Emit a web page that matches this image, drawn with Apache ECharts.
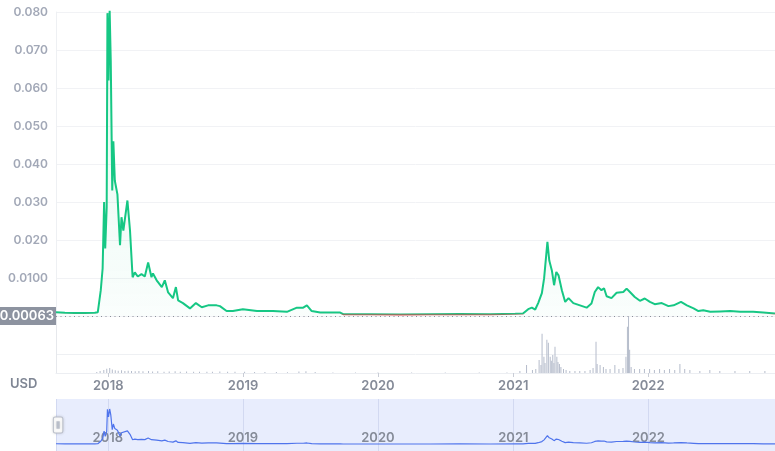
<!doctype html>
<html>
<head>
    <meta charset="utf-8">
    <title>Price chart</title>
    <style>
        html, body { margin: 0; padding: 0; background: #fff; }
        #chartEle { width: 775px; height: 451px; }
    </style>
</head>
<body>
<div id="chartEle"></div>
<script src="https://cdn.jsdelivr.net/npm/echarts@6.0.0/dist/echarts.min.js"></script>
<script>
    // price points
    var priceDates = [
        '2017-08-14', '2017-09-07', '2017-10-04', '2017-10-31', '2017-11-27', '2017-12-05', '2017-12-13', '2017-12-18',
        '2017-12-22', '2017-12-25', '2017-12-29', '2017-12-31', '2018-01-03', '2018-01-06', '2018-01-09', '2018-01-13',
        '2018-01-16', '2018-01-20', '2018-01-27', '2018-02-03', '2018-02-07', '2018-02-12', '2018-02-23', '2018-03-02',
        '2018-03-09', '2018-03-15', '2018-03-23', '2018-04-02', '2018-04-11', '2018-04-20', '2018-04-29', '2018-05-03',
        '2018-05-13', '2018-05-27', '2018-06-04', '2018-06-13', '2018-06-26', '2018-07-04', '2018-07-10', '2018-07-23',
        '2018-08-11', '2018-08-27', '2018-09-12', '2018-09-29', '2018-10-22', '2018-10-31', '2018-11-18', '2018-12-05',
        '2019-01-01', '2019-02-08', '2019-03-23', '2019-04-30', '2019-05-27', '2019-06-13', '2019-06-23', '2019-07-06',
        '2019-07-29', '2019-09-21', '2019-09-29', '2019-12-11', '2020-03-01', '2020-05-21', '2020-08-10', '2020-10-30',
        '2021-01-06', '2021-01-27', '2021-02-10', '2021-02-20', '2021-03-01', '2021-03-09', '2021-03-19', '2021-03-25',
        '2021-04-03', '2021-04-08', '2021-04-15', '2021-04-21', '2021-04-27', '2021-05-03', '2021-05-12', '2021-05-21',
        '2021-05-30', '2021-06-12', '2021-06-30', '2021-07-18', '2021-07-31', '2021-08-09', '2021-08-18', '2021-08-27',
        '2021-09-03', '2021-09-10', '2021-09-23', '2021-10-07', '2021-10-25', '2021-11-03', '2021-11-12', '2021-11-25',
        '2021-12-09', '2021-12-22', '2022-01-05', '2022-01-18', '2022-02-06', '2022-02-24', '2022-03-10', '2022-03-30',
        '2022-04-15', '2022-05-03', '2022-05-16', '2022-05-29', '2022-06-17', '2022-07-14', '2022-08-10', '2022-09-06',
        '2022-10-11', '2022-11-07', '2022-12-09'
    ];
    var prices = [
        0.0010, 0.00087, 0.0008, 0.0008, 0.00085, 0.0010, 0.0068, 0.0125,
        0.0300, 0.0178, 0.0286, 0.0797, 0.0620, 0.0803, 0.0670, 0.0330,
        0.0460, 0.0356, 0.0320, 0.0186, 0.0260, 0.0225, 0.0304, 0.0225,
        0.0102, 0.0115, 0.0104, 0.0110, 0.0104, 0.0141, 0.0102, 0.0112,
        0.0094, 0.0076, 0.0094, 0.0062, 0.0047, 0.0076, 0.0041, 0.0034,
        0.0020, 0.0034, 0.0023, 0.0028, 0.0028, 0.0026, 0.0013, 0.0013,
        0.0018, 0.0013, 0.0013, 0.0011, 0.0022, 0.0022, 0.0028, 0.0013,
        0.0009, 0.0009, 0.00047, 0.00047, 0.00042, 0.00047, 0.00052, 0.00047,
        0.0006, 0.00066, 0.0018, 0.0022, 0.0017, 0.0034, 0.0060, 0.0099,
        0.0195, 0.0146, 0.0120, 0.0081, 0.0116, 0.0107, 0.0068, 0.0037,
        0.0047, 0.0034, 0.0028, 0.0022, 0.0033, 0.0063, 0.0076, 0.0068,
        0.0073, 0.0052, 0.0047, 0.0061, 0.0063, 0.0072, 0.0063, 0.0050,
        0.0040, 0.0046, 0.0037, 0.0031, 0.0034, 0.0026, 0.0028, 0.0037,
        0.0028, 0.0020, 0.0013, 0.0015, 0.0011, 0.0012, 0.0013, 0.0011,
        0.0011, 0.0009, 0.00063
    ];
    // volume bars (relative units)
    var volumeDates = [
        '2017-12-01', '2017-12-10', '2017-12-20', '2017-12-28', '2018-01-05', '2018-01-12', '2018-01-20', '2018-01-28',
        '2018-02-06', '2018-02-15', '2018-02-24', '2018-03-05', '2018-03-15', '2018-03-25', '2018-04-05', '2018-04-20',
        '2018-05-01', '2018-05-15', '2018-06-01', '2018-06-15', '2018-07-01', '2018-07-15', '2018-08-01', '2018-08-20',
        '2018-09-05', '2018-09-25', '2018-10-10', '2018-10-30', '2018-11-20', '2018-12-10', '2019-01-05', '2019-02-01',
        '2019-03-01', '2019-04-01', '2019-05-01', '2019-06-01', '2019-06-20', '2019-07-15', '2019-09-01', '2019-11-01',
        '2020-01-01', '2020-04-01', '2020-07-01', '2020-10-01', '2020-12-15', '2021-01-19', '2021-02-06', '2021-02-22',
        '2021-03-03', '2021-03-12', '2021-03-17', '2021-03-20', '2021-03-25', '2021-03-28', '2021-04-02', '2021-04-06',
        '2021-04-11', '2021-04-14', '2021-04-18', '2021-04-21', '2021-04-24', '2021-04-29', '2021-05-02', '2021-05-06',
        '2021-05-10', '2021-05-17', '2021-05-24', '2021-06-03', '2021-06-17', '2021-06-30', '2021-07-14', '2021-07-28',
        '2021-08-05', '2021-08-13', '2021-08-16', '2021-08-24', '2021-09-02', '2021-09-09', '2021-09-20', '2021-10-03',
        '2021-10-14', '2021-10-25', '2021-11-02', '2021-11-06', '2021-11-09', '2021-11-12', '2021-11-16', '2021-11-25',
        '2021-12-09', '2021-12-22', '2022-01-05', '2022-01-18', '2022-02-01', '2022-02-14', '2022-02-28', '2022-03-14',
        '2022-03-28', '2022-04-10', '2022-04-24', '2022-05-21', '2022-06-17', '2022-07-14', '2022-08-24', '2022-10-03',
        '2022-11-13'
    ];
    var volumes = [
        5, 10, 16, 22, 26, 18, 14, 12,
        14, 10, 12, 10, 9, 11, 9, 10,
        8, 9, 7, 8, 9, 7, 8, 7,
        6, 7, 6, 8, 6, 7, 6, 5,
        5, 5, 4, 8, 9, 5, 3, 2,
        2, 2, 2, 2, 3, 10, 42, 16,
        21, 69, 42, 207, 85, 53, 175, 159,
        85, 64, 95, 53, 138, 85, 58, 48,
        32, 21, 16, 11, 11, 11, 11, 16,
        26, 164, 48, 42, 32, 21, 21, 42,
        21, 26, 85, 244, 297, 122, 32, 21,
        21, 21, 21, 16, 21, 16, 21, 16,
        48, 21, 16, 11, 16, 11, 11, 11,
        11
    ];
    var lastPrice = 0.00063;
    var yTickLabels = ['', '0.0100', '0.020', '0.030', '0.040', '0.050', '0.060', '0.070', '0.080'];
    var rangeStart = '2017-08-14';
    var rangeEnd = '2022-12-09';

    var priceData = priceDates.map(function (d, i) { return [d, prices[i]]; });
    var volumeData = volumeDates.map(function (d, i) { return [d, volumes[i]]; });

    var myChart = echarts.init(document.getElementById('chartEle'));
    var yearMs = 365 * 24 * 3600 * 1000;
    var yearFmt = function (v) { return String(new Date(v).getFullYear()); };
    var green = '#16c784', red = '#ea3943';

    var option = {
        animation: false,
        textStyle: {fontFamily: 'Inter'},
        graphic: [{
            type: 'text',
            left: 10,
            top: 378,
            style: {text: 'USD', font: '600 13px Inter', fill: '#7f8694'}
        }],
        grid: [
            {left: 56, right: 0, top: 12, height: 304},
            {left: 56, right: 0, top: 316, height: 57},
            {left: 56, right: 0, top: 399, height: 52, show: true, backgroundColor: '#e8edfd', borderWidth: 0}
        ],
        xAxis: [{
            type: 'time', gridIndex: 0, min: rangeStart, max: rangeEnd, show: false
        }, {
            type: 'time', gridIndex: 1, min: rangeStart, max: rangeEnd,
            minInterval: yearMs,
            axisLine: {show: true, lineStyle: {color: '#eceef2'}},
            axisTick: {show: true, length: 4, lineStyle: {color: '#c9cdd6'}},
            splitLine: {show: false},
            axisLabel: {
                margin: 7, fontSize: 13, fontWeight: 600, color: '#858b98',
                formatter: yearFmt
            }
        }, {
            type: 'time', gridIndex: 2, min: rangeStart, max: rangeEnd,
            minInterval: yearMs,
            axisLine: {show: false},
            axisTick: {show: false},
            splitLine: {show: true, lineStyle: {color: '#d2d9f1'}},
            axisLabel: {
                inside: true, margin: 6, fontSize: 13, fontWeight: 600, color: '#858b98',
                formatter: yearFmt
            }
        }],
        yAxis: [{
            type: 'value', gridIndex: 0, min: 0, max: 0.08, interval: 0.01,
            axisLine: {show: true, lineStyle: {color: '#eef0f3'}},
            axisTick: {show: false},
            splitLine: {lineStyle: {color: '#f1f2f5'}},
            axisLabel: {
                margin: 8, fontSize: 12, fontWeight: 600, color: '#a2a8b7',
                formatter: function (v) {
                    return yTickLabels[Math.round(v / 0.01)] || '';
                }
            }
        }, {
            type: 'value', gridIndex: 1, min: 0, max: 300, interval: 100,
            axisLine: {show: true, lineStyle: {color: '#e6e8ec'}},
            axisTick: {show: false},
            axisLabel: {show: false},
            splitLine: {lineStyle: {color: ['transparent', '#eef0f3', 'transparent', 'transparent']}}
        }, {
            type: 'value', gridIndex: 2, min: -0.0155, max: 0.103, show: false
        }],
        dataZoom: [{
            type: 'slider',
            xAxisIndex: [0, 1],
            left: 56, right: -8, top: 399, height: 52,
            start: 0, end: 100,
            showDataShadow: false,
            showDetail: false,
            brushSelect: false,
            moveHandleSize: 0,
            backgroundColor: 'transparent',
            fillerColor: 'rgba(0,0,0,0)',
            borderColor: 'transparent',
            handleIcon: 'path://M2,0h6a2,2,0,0,1,2,2v13a2,2,0,0,1-2,2h-6a2,2,0,0,1-2-2v-13a2,2,0,0,1,2-2Z M3.8,5h0.7v7h-0.7Z M5.5,5h0.7v7h-0.7Z',
            handleSize: '31%',
            handleStyle: {
                color: '#fff', borderColor: '#b9bec9', borderWidth: 1,
                shadowBlur: 3, shadowColor: 'rgba(0,0,0,0.15)'
            }
        }],
        series: [{
            name: 'Price',
            type: 'line',
            xAxisIndex: 0, yAxisIndex: 0,
            data: priceData,
            showSymbol: false,
            clip: false,
            lineStyle: {width: 2, color: green},
            areaStyle: {
                color: new echarts.graphic.LinearGradient(0, 0, 0, 1, [
                    {offset: 0, color: 'rgba(22,199,132,0.18)'},
                    {offset: 1, color: 'rgba(22,199,132,0.03)'}
                ])
            },
            markLine: {
                silent: true,
                symbol: 'none',
                lineStyle: {color: '#8a8f99', type: [1, 3.5], width: 1},
                label: {
                    position: 'start',
                    distance: 0,
                    formatter: function () { return String(lastPrice); },
                    color: '#fff', fontSize: 13, fontWeight: 600,
                    backgroundColor: '#8d93a0',
                    padding: [3, 2, 2, 2]
                },
                data: [{yAxis: lastPrice}]
            }
        }, {
            name: 'Volume',
            type: 'bar',
            xAxisIndex: 1, yAxisIndex: 1,
            data: volumeData,
            barWidth: 1,
            itemStyle: {color: '#b5bccb'}
        }, {
            name: 'Overview',
            type: 'line',
            xAxisIndex: 2, yAxisIndex: 2,
            data: priceData,
            showSymbol: false,
            silent: true,
            lineStyle: {width: 1.2, color: '#4f74ec'}
        }]
    };
    myChart.setOption(option);

    // colour the price line red below the last price, green above it (soft edge)
    var yLast = myChart.convertToPixel({yAxisIndex: 0}, lastPrice);
    var h = myChart.getHeight();
    var p1 = Math.min(Math.max((yLast - 0.3) / h, 0), 1);
    var p2 = Math.min(Math.max((yLast + 2) / h, 0), 1);
    myChart.setOption({
        series: [{
            name: 'Price',
            lineStyle: {
                color: new echarts.graphic.LinearGradient(0, 0, 0, h, [
                    {offset: 0, color: green},
                    {offset: p1, color: green},
                    {offset: p2, color: red},
                    {offset: 1, color: red}
                ], true)
            }
        }]
    });
</script>
</body>
</html>
